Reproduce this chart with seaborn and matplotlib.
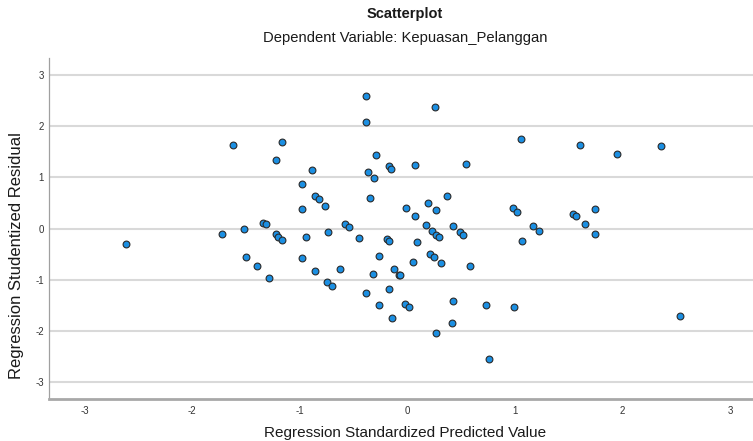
import matplotlib
matplotlib.use("Agg")
import matplotlib.pyplot as plt
import seaborn as sns
import pandas as pd

# Regression Standardized Predicted Value
pred = [-2.616, -1.721, -1.622, -1.522, -1.498, -1.40, -1.34, -1.32, -1.284, -1.225,
        -1.225, -1.20, -1.164, -1.164, -0.983, -0.983, -0.983, -0.946, -0.885, -0.862,
        -0.862, -0.825, -0.764, -0.748, -0.742, -0.705, -0.627, -0.581, -0.544, -0.448,
        -0.386, -0.386, -0.386, -0.37, -0.349, -0.323, -0.309, -0.29, -0.265, -0.265,
        -0.193, -0.175, -0.169, -0.169, -0.15, -0.144, -0.128, -0.082, -0.067, -0.026,
        -0.011, 0.011, 0.048, 0.073, 0.073, 0.088, 0.172, 0.19, 0.209, 0.228,
        0.249, 0.253, 0.268, 0.268, 0.268, 0.29, 0.311, 0.37, 0.414, 0.423,
        0.426, 0.488, 0.513, 0.547, 0.584, 0.727, 0.76, 0.98, 0.987, 1.018,
        1.055, 1.067, 1.163, 1.225, 1.538, 1.569, 1.60, 1.647, 1.743, 1.743,
        1.944, 2.359, 2.533]
# Regression Studentized Residual
resid = [-0.297, -0.108, 1.623, 0.00, -0.544, -0.72, 0.12, 0.09, -0.955, 1.34,
         -0.108, -0.167, 1.70, -0.219, 0.869, 0.387, -0.57, -0.167, 1.154, 0.635,
         -0.818, 0.576, 0.445, -1.033, -0.075, -1.111, -0.785, 0.094, 0.029, -0.173,
         2.594, 2.09, -1.254, 1.115, 0.596, -0.877, 0.992, 1.428, -0.531, -1.494,
         -0.193, 1.213, -0.238, -1.182, 1.162, -1.742, -0.785, -0.896, -0.896, -1.463,
         0.412, -1.527, -0.654, 1.24, 0.256, -0.258, 0.068, 0.51, -0.486, -0.043,
         -0.557, 2.379, 0.36, -0.115, -2.029, -0.16, -0.674, 0.64, -1.84, -1.404,
         0.055, -0.063, -0.121, 1.252, -0.733, -1.494, -2.543, 0.412, -1.521, 0.334,
         1.748, -0.232, 0.061, -0.04, 0.295, 0.256, 1.623, 0.088, 0.387, -0.10,
         1.455, 1.617, -1.697]

ticks = [-3, -2, -1, 0, 1, 2, 3]
tick_labels = ["-3", "-2", "-1", "0", "1", "2", "3"]

title = "Scatterplot"
subtitle = "Dependent Variable: Kepuasan_Pelanggan"
xlabel = "Regression Standardized Predicted Value"
ylabel = "Regression Studentized Residual"

sns.set_style("white")
plt.rcParams["font.family"] = ["Liberation Sans", "DejaVu Sans"]

df = pd.DataFrame({"pred": pred, "resid": resid})

W, H = 753, 441
fig = plt.figure(figsize=(W / 100, H / 100), dpi=100)
left_px, right_px, top_px, bottom_px = 49.3, 765.7, 58.0, 399.3
ax = fig.add_axes([left_px / W, 1 - bottom_px / H,
                   (right_px - left_px) / W, (bottom_px - top_px) / H])

ax.set_xlim(-3.33, 3.33)
ax.set_ylim(-3.33, 3.33)
ax.set_yticks(ticks)
ax.set_xticks(ticks)
ax.set_xticklabels(tick_labels)
ax.set_yticklabels(tick_labels)
ax.yaxis.grid(True, color="#d9d9d9", linewidth=1.5)
ax.xaxis.grid(False)
ax.set_axisbelow(True)

sns.scatterplot(data=df, x="pred", y="resid", ax=ax, color="#1b8fe2",
                edgecolor="#2a2a2a", linewidth=0.8, s=24, zorder=3)

ax.set_xlabel("")
ax.set_ylabel("")
ax.tick_params(axis="both", length=0, labelsize=7, colors="#333333")
ax.tick_params(axis="x", pad=5)
ax.tick_params(axis="y", pad=4)

for s in ["top", "right"]:
    ax.spines[s].set_visible(False)
ax.spines["left"].set_color("#a0a0a0")
ax.spines["left"].set_linewidth(0.9)
ax.spines["bottom"].set_color("#a8a8a8")
ax.spines["bottom"].set_linewidth(2.0)

cx = 405 / W
fig.text(cx, 1 - 14 / H, title, ha="center", va="center", fontsize=10.5,
         fontweight="bold", color="#1a1a1a")
fig.text(cx, 1 - 38 / H, subtitle, ha="center", va="center", fontsize=10.6,
         color="#1a1a1a")
fig.text(cx, 1 - 433 / H, xlabel, ha="center", va="center", fontsize=11,
         color="#1a1a1a")
fig.text(17 / W, 1 - 256 / H, ylabel, ha="center",
         va="center", rotation=90, fontsize=12, color="#1a1a1a")

fig.savefig("out.png", dpi=100)
